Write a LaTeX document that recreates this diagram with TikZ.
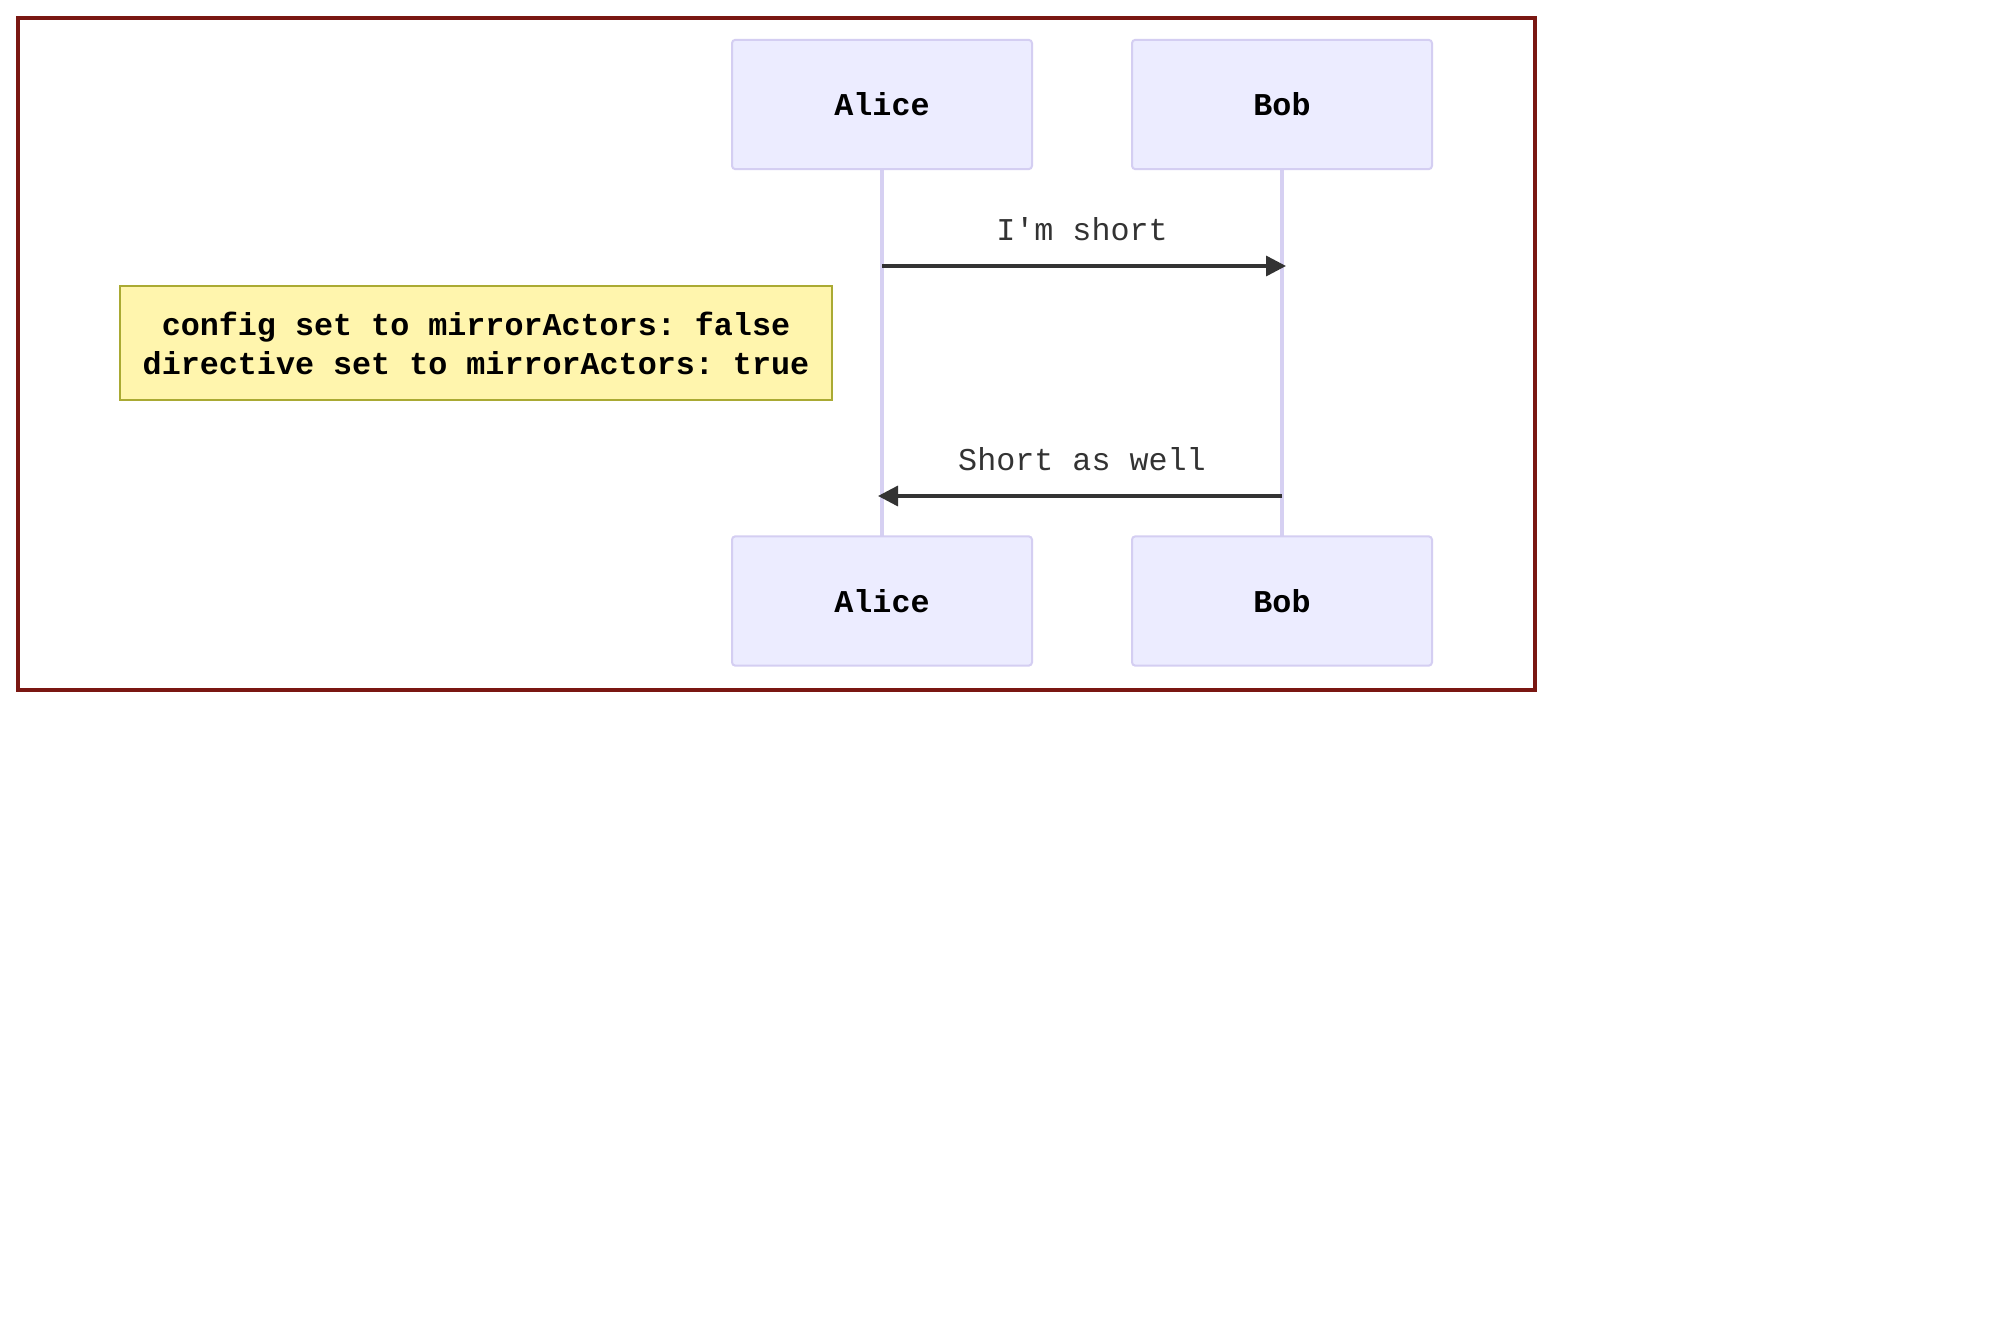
\documentclass[tikz,border=0pt]{standalone}
\usepackage{fontspec}
\setmainfont{Liberation Mono}[Ligatures=TeXOff]
\usetikzlibrary{arrows.meta}
\frenchspacing
\definecolor{actfill}{HTML}{ECECFF}
\definecolor{actline}{HTML}{D4CEF2}
\definecolor{lifeline}{HTML}{D6D0F2}
\definecolor{notefill}{HTML}{FFF5AD}
\definecolor{noteline}{HTML}{AAAA33}
\definecolor{framecol}{HTML}{7A1712}
\definecolor{msgcol}{HTML}{333333}
\tikzset{
  actor/.style={draw=actline, fill=actfill, line width=1.5pt, rounded corners=2.5pt,
    minimum width=225pt, minimum height=97pt, inner sep=0pt,
    font=\fontsize{23.8}{28}\selectfont\bfseries, text=black},
  note/.style={draw=noteline, fill=notefill, line width=1.5pt,
    minimum width=534pt, minimum height=85pt, inner sep=0pt, align=center,
    font=\fontsize{23.8}{29.25}\selectfont\bfseries, text=black},
  msglabel/.style={font=\fontsize{23.8}{28}\selectfont, text=msgcol, inner sep=0pt},
  life/.style={draw=lifeline, line width=2.6pt},
  msg/.style={draw=msgcol, line width=2.6pt, -{Triangle[length=15pt,width=15pt]}},
}
\begin{document}
\begin{tikzpicture}[x=0.75pt,y=-0.75pt]
\useasboundingbox (0,0) rectangle (2000,1320);
\fill[white] (0,0) rectangle (2000,1320);
\draw[framecol, line width=3pt] (18,18) rectangle (1535,690);
% lifelines first
\coordinate (aT) at (882,169);
\coordinate (aB) at (882,536);
\coordinate (bT) at (1282,169);
\coordinate (bB) at (1282,536);
\draw[life] (aT) -- (aB);
\draw[life] (bT) -- (bB);
\node[actor] (alice1) at (882,104.5) {Alice};
\node[actor] (bob1) at (1282,104.5) {Bob};
\node[actor] (alice2) at (882,601) {Alice};
\node[actor] (bob2) at (1282,601) {Bob};
\node[note] (n) at (476,343) {config set to mirrorActors: false\\directive set to mirrorActors: true};
\coordinate (m1s) at (882,266);
\coordinate (m1e) at (1286,266);
\coordinate (m2s) at (1282,496);
\coordinate (m2e) at (878,496);
\draw[msg] (m1s) -- (m1e);
\draw[msg] (m2s) -- (m2e);
\node[msglabel] (l1) at (1082,229) {I'm short};
\node[msglabel] (l2) at (1082,459) {Short as well};
\end{tikzpicture}
\end{document}
